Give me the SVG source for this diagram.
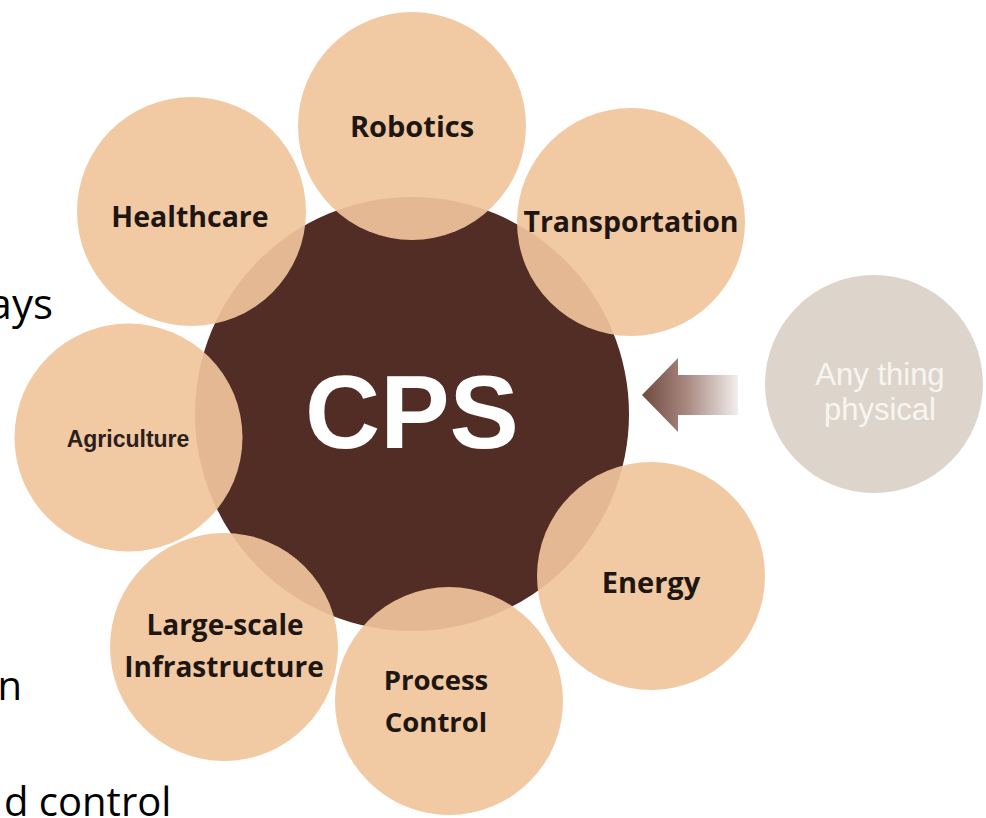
<svg xmlns="http://www.w3.org/2000/svg" width="986" height="818" viewBox="0 0 986 818">
  <defs>
    <style>
      .hub { fill: #522d25; }
      .petal { fill: #f0c49b; fill-opacity: 0.92; }
      .label { font-family: "Open Sans", "Liberation Sans", sans-serif; font-weight: 700; fill: #1e1612; text-anchor: middle; }
      .label-arial { font-family: "Liberation Sans", Arial, sans-serif; font-weight: 700; fill: #2a201c; text-anchor: middle; }
      .body { font-family: "Open Sans", "Liberation Sans", sans-serif; font-weight: 400; fill: #000000; }
    </style>
    <linearGradient id="arrowFade" x1="642" y1="0" x2="740" y2="0" gradientUnits="userSpaceOnUse">
      <stop offset="0" stop-color="#6f4a40"/>
      <stop offset="0.45" stop-color="#a8877f"/>
      <stop offset="1" stop-color="#f6f2f1"/>
    </linearGradient>
  </defs>

  <rect width="986" height="818" fill="#ffffff"/>

  <!-- slide body text partly hidden behind the figure -->
  <text class="body" x="53" y="319" font-size="42" text-anchor="end">ays</text>
  <text class="body" x="22" y="700" font-size="40" text-anchor="end">n</text>
  <text class="body" x="4" y="816" font-size="40">d control</text>

  <!-- central hub -->
  <g id="cps">
    <circle class="hub" cx="412" cy="414" r="217"/>
    <text x="412" y="448" font-family="Liberation Sans, Arial, sans-serif" font-weight="700" font-size="104" fill="#ffffff" text-anchor="middle">CPS</text>
  </g>

  <!-- application domains -->
  <g id="robotics">
    <circle class="petal" cx="412" cy="126" r="114"/>
    <text class="label" x="412" y="137" font-size="29">Robotics</text>
  </g>
  <g id="transportation">
    <circle class="petal" cx="631" cy="222" r="114"/>
    <text class="label" x="631" y="232" font-size="28.5">Transportation</text>
  </g>
  <g id="healthcare">
    <circle class="petal" cx="191.5" cy="211.5" r="114.5"/>
    <text class="label" x="190" y="227" font-size="28.5">Healthcare</text>
  </g>
  <g id="agriculture">
    <circle class="petal" cx="128.5" cy="437.5" r="114"/>
    <text class="label-arial" x="128" y="447" font-size="23">Agriculture</text>
  </g>
  <g id="infrastructure">
    <circle class="petal" cx="224" cy="647" r="114"/>
    <text class="label" x="225" y="635" font-size="28">Large-scale</text>
    <text class="label" x="224" y="677" font-size="28">Infrastructure</text>
  </g>
  <g id="process-control">
    <circle class="petal" cx="449" cy="701" r="114"/>
    <text class="label" x="436" y="690" font-size="27.5">Process</text>
    <text class="label" x="436" y="732" font-size="27.5">Control</text>
  </g>
  <g id="energy">
    <circle class="petal" cx="651" cy="576" r="114"/>
    <text class="label" x="651" y="593" font-size="29">Energy</text>
  </g>

  <!-- physical world input -->
  <g id="physical">
    <circle cx="874" cy="384" r="109" fill="#ddd5cb"/>
    <text x="880" y="385" font-family="Liberation Sans, Arial, sans-serif" font-size="31" fill="#f8f5f1" text-anchor="middle">Any thing</text>
    <text x="880" y="420" font-family="Liberation Sans, Arial, sans-serif" font-size="31" fill="#f8f5f1" text-anchor="middle">physical</text>
  </g>

  <g id="connectors">
    <path d="M642,395 L678,358 L678,375 L738,375 L738,415 L678,415 L678,432 Z" fill="url(#arrowFade)"/>
  </g>
</svg>
